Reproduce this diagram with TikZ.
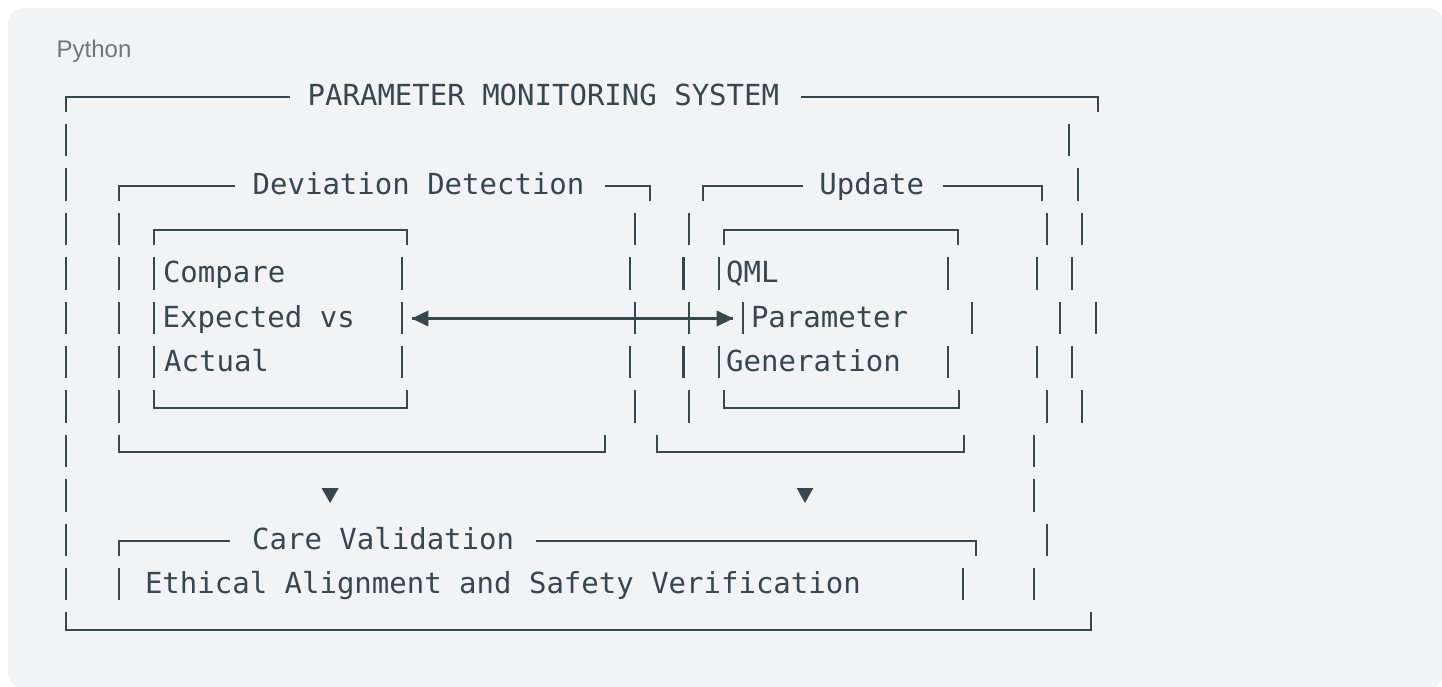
\documentclass[tikz,border=0pt]{standalone}
\usepackage{fontspec}
\setmonofont{DejaVu Sans Mono}
\setsansfont{Liberation Sans}
\definecolor{ink}{RGB}{55,71,79}
\definecolor{paper}{RGB}{241,243,245}
\definecolor{lbl}{RGB}{112,117,122}
% one box-drawing bar in text row #2
\newcommand{\vpipe}[2]{\draw[bx] (#1,{97+44.4*(#2-1)-17.5}) -- ++(0,32.5);}
\begin{document}
\begin{tikzpicture}[x=1pt,y=-1pt,
  bx/.style={ink,line width=2.1pt},
  txt/.style={anchor=base west,inner sep=0pt,text=ink,font=\ttfamily\fontsize{29}{35}\selectfont}]
 \useasboundingbox (0,0) rectangle (1442,686);
 \fill[white] (0,0) rectangle (1442,686);
 \fill[paper,rounded corners=16pt] (8,8) rectangle (1444,688);
 \node[anchor=base west,inner sep=0pt,text=lbl,font=\sffamily\fontsize{24}{28}\selectfont] (lang) at (56.5,57.3) {Python};

 \node[txt] (title) at (307.5,105.3) {PARAMETER MONITORING SYSTEM};
 \node[txt] (dev)   at (252.5,194.1) {Deviation Detection};
 \node[txt] (upd)   at (819.2,194.1) {Update};
 \node[txt] (cmpa)  at (162.8,282.9) {Compare};
 \node[txt] (cmpb)  at (162.5,327.3) {Expected vs};
 \node[txt] (cmpc)  at (164,371.7)   {Actual};
 \node[txt] (qml)   at (726,282.9)   {QML};
 \node[txt] (par)   at (750.8,327.3) {Parameter};
 \node[txt] (gen)   at (726,371.7)   {Generation};
 \node[txt] (care)  at (252,549.3)   {Care Validation};
 \node[txt] (eth)   at (144.8,593.7) {Ethical Alignment and Safety Verification};

 % frames
 \draw[bx] (290,97) -- (65.7,97) -- ++(0,15);
 \draw[bx] (801,97) -- (1097.7,97) -- ++(0,15);
 \draw[bx] (65.7,612.3) -- (65.7,629.8) -- (1091.4,629.8) -- ++(0,-17.5);
 \draw[bx] (235,185.8) -- (119,185.8) -- ++(0,15);
 \draw[bx] (605,185.8) -- (650,185.8) -- ++(0,15);
 \draw[bx] (119,434.7) -- (119,452.2) -- (605,452.2) -- ++(0,-17.5);
 \draw[bx] (802.7,185.8) -- (702.7,185.8) -- ++(0,15);
 \draw[bx] (943,185.8) -- (1042.3,185.8) -- ++(0,15);
 \draw[bx] (657.3,434.7) -- (657.3,452.2) -- (964.3,452.2) -- ++(0,-17.5);
 \draw[bx] (154.3,245.2) -- (154.3,230.2) -- (406.7,230.2) -- ++(0,15);
 \draw[bx] (154.3,390.3) -- (154.3,407.8) -- (406.7,407.8) -- ++(0,-17.5);
 \draw[bx] (724,245.2) -- (724,230.2) -- (958.3,230.2) -- ++(0,15);
 \draw[bx] (724,390.3) -- (724,407.8) -- (959,407.8) -- ++(0,-17.5);
 \draw[bx] (229.6,541) -- (118.6,541) -- ++(0,15);
 \draw[bx] (535.8,541) -- (975.7,541) -- ++(0,15);

 \foreach \k in {2,...,12} {\vpipe{65.7}{\k}}
 \foreach \k in {4,...,8} {\vpipe{119}{\k}}
 \foreach \k in {5,6,7} {\vpipe{154.3}{\k} \vpipe{401.7}{\k}}
 \foreach \k in {4,6,8} {\vpipe{635.3}{\k} \vpipe{689}{\k}}
 \foreach \k in {5,7} {\vpipe{630.3}{\k} \vpipe{683.5}{\k} \vpipe{719}{\k}
   \vpipe{947.8}{\k} \vpipe{1036.7}{\k} \vpipe{1072.2}{\k}}
 \foreach \k in {4,8} {\vpipe{1046.7}{\k} \vpipe{1082.3}{\k}}
 \foreach \x/\k in {742.8/6,972/6,1060.3/6,1096.2/6,1069/2,1077.7/3,1034.3/9,
   1034.3/10,1046.7/11,118.6/12,963.3/12,1034.3/12} {\vpipe{\x}{\k}}

 \coordinate (cmpR) at (411.7,318.5);
 \coordinate (parL) at (733.3,318.5);
 \draw[bx] (cmpR) -- (parL);
 \fill[ink] (cmpR) -- ++(16.6,-8) -- ++(0,16) -- cycle;
 \fill[ink] (parL) -- ++(-16.6,-8) -- ++(0,16) -- cycle;

 \fill[ink] (321.5,488) -- (338.7,488) -- (330.1,503) -- cycle;
 \fill[ink] (796.7,488) -- (813.3,488) -- (805,503) -- cycle;
\end{tikzpicture}
\end{document}
